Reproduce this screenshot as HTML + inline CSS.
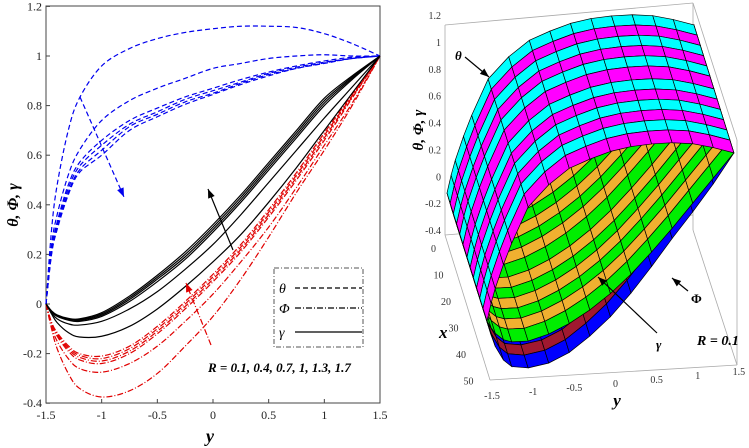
<!DOCTYPE html>
<html><head><meta charset="utf-8"><style>
body{margin:0;background:#fff;}
svg{display:block;font-family:"Liberation Serif",serif;}
</style></head><body>
<svg id="fig" width="749" height="448" viewBox="0 0 749 448" xmlns="http://www.w3.org/2000/svg">
<g id="left"></g>
<g id="right"></g>
</svg>
<script>
// ---- Data (left chart) ----
const yCats = [-1.5,-1.45,-1.4,-1.3,-1.2,-1,-0.75,-0.5,-0.25,0,0.25,0.5,0.75,1,1.25,1.5];
const thetaR01 = [0,0.3,0.48,0.7,0.83,0.96,1.03,1.07,1.095,1.11,1.12,1.12,1.115,1.09,1.05,1];
const thetaR04 = [0,0.24,0.36,0.52,0.62,0.74,0.82,0.87,0.91,0.95,0.97,0.99,1.0,1.005,1.0,1];
const thetaR07 = [0,0.22,0.33,0.48,0.57,0.66,0.74,0.79,0.835,0.87,0.905,0.935,0.96,0.98,0.995,1];
const thetaR10 = [0,0.21,0.32,0.465,0.555,0.64,0.725,0.775,0.825,0.86,0.895,0.93,0.955,0.975,0.99,1];
const thetaR13 = [0,0.205,0.31,0.45,0.54,0.62,0.715,0.765,0.815,0.85,0.89,0.925,0.95,0.972,0.99,1];
const thetaR17 = [0,0.2,0.3,0.44,0.53,0.6,0.7,0.755,0.805,0.845,0.885,0.92,0.95,0.97,0.99,1];
const gammaR01 = [0,-0.04,-0.075,-0.115,-0.133,-0.13,-0.09,-0.02,0.07,0.17,0.28,0.41,0.55,0.7,0.85,1];
const gammaR04 = [0,-0.035,-0.06,-0.08,-0.085,-0.07,-0.02,0.05,0.14,0.24,0.36,0.49,0.62,0.75,0.875,1];
const gammaR07 = [0,-0.03,-0.05,-0.065,-0.07,-0.05,0.01,0.09,0.18,0.29,0.41,0.54,0.67,0.8,0.905,1];
const gammaR10 = [0,-0.03,-0.048,-0.062,-0.066,-0.045,0.018,0.1,0.19,0.3,0.42,0.55,0.68,0.81,0.91,1];
const gammaR13 = [0,-0.029,-0.046,-0.06,-0.063,-0.04,0.025,0.108,0.2,0.31,0.43,0.56,0.69,0.82,0.915,1];
const gammaR17 = [0,-0.028,-0.044,-0.058,-0.06,-0.035,0.032,0.116,0.21,0.32,0.44,0.57,0.7,0.83,0.92,1];
const phiR01 = [0,-0.1,-0.18,-0.28,-0.34,-0.375,-0.35,-0.28,-0.17,-0.05,0.1,0.27,0.45,0.62,0.8,1];
const phiR04 = [0,-0.09,-0.15,-0.22,-0.26,-0.275,-0.24,-0.17,-0.07,0.04,0.17,0.31,0.47,0.64,0.81,1];
const phiR07 = [0,-0.08,-0.13,-0.19,-0.225,-0.24,-0.2,-0.12,-0.02,0.09,0.21,0.35,0.5,0.66,0.83,1];
const phiR10 = [0,-0.078,-0.125,-0.182,-0.215,-0.23,-0.19,-0.11,-0.01,0.1,0.22,0.36,0.51,0.67,0.835,1];
const phiR13 = [0,-0.076,-0.12,-0.175,-0.207,-0.22,-0.18,-0.1,0.0,0.11,0.23,0.37,0.52,0.68,0.84,1];
const phiR17 = [0,-0.074,-0.115,-0.168,-0.2,-0.21,-0.17,-0.09,0.01,0.12,0.24,0.38,0.53,0.69,0.845,1];
const xTicks = [-1.5,-1,-0.5,0,0.5,1,1.5];
const xTickLabels = ["-1.5","-1","-0.5","0","0.5","1","1.5"];
const yTicks = [-0.4,-0.2,0,0.2,0.4,0.6,0.8,1,1.2];
const yTickLabels = ["-0.4","-0.2","0","0.2","0.4","0.6","0.8","1","1.2"];
// ---- Data (3D chart, R = 0.1) ----
const depthCats = [0,4,8,12,16,20,25,29,33,37,41,45,50];
const theta3D = [0,0.12,0.22,0.38,0.52,0.76,0.9,1.0,1.05,1.09,1.11,1.115,1.11,1.09,1.05,1];
const gamma3D = [0,-0.05,-0.09,-0.14,-0.16,-0.165,-0.13,-0.07,0.01,0.11,0.23,0.37,0.52,0.68,0.84,1];
const phi3D = [0,-0.1,-0.18,-0.28,-0.33,-0.35,-0.33,-0.27,-0.17,-0.05,0.1,0.27,0.45,0.62,0.8,1];
const zTickLabels = ["1.2","1","0.8","0.6","0.4","0.2","0","-0.2","-0.4"];
const zTickVals = [1.2,1,0.8,0.6,0.4,0.2,0,-0.2,-0.4];
const depthTickLabels = ["0","10","20","30","40","50"];
const depthTickVals = [0,10,20,30,40,50];

const NS="http://www.w3.org/2000/svg";
function mk(tag,attrs,parent){const e=document.createElementNS(NS,tag);for(const k in attrs)e.setAttribute(k,attrs[k]);parent.appendChild(e);return e;}
const L=document.getElementById('left'), R=document.getElementById('right');
const sx=v=>46+(v+1.5)/3*334;
const sy=v=>304-v*248;
function smooth(pts){let d=`M${pts[0][0]},${pts[0][1]}`;for(let i=0;i<pts.length-1;i++){const p0=pts[Math.max(0,i-1)],p1=pts[i],p2=pts[i+1],p3=pts[Math.min(pts.length-1,i+2)];d+=` C${p1[0]+(p2[0]-p0[0])/6},${p1[1]+(p2[1]-p0[1])/6} ${p2[0]-(p3[0]-p1[0])/6},${p2[1]-(p3[1]-p1[1])/6} ${p2[0]},${p2[1]}`;}return d;}

const frame=mk('rect',{x:46,y:6,width:334,height:397,fill:'none',stroke:'#444','stroke-width':1},L);

xTicks.forEach((t,i)=>{
  const tk=mk('line',{x1:sx(t),x2:sx(t),y1:403,y2:399,stroke:'#444'},L);
  
  const tx=mk('text',{x:sx(t),y:419,'font-size':12,'text-anchor':'middle',fill:'#222'},L);tx.textContent=xTickLabels[i];
  
});
yTicks.forEach((t,i)=>{
  const tk=mk('line',{x1:46,x2:50,y1:sy(t),y2:sy(t),stroke:'#444'},L);
  
  const tx=mk('text',{x:42,y:sy(t)+4,'font-size':12,'text-anchor':'end',fill:'#222'},L);tx.textContent=yTickLabels[i];
  
});
const series=[
 [thetaR01,'#0000ee','5,3','theta'],[thetaR04,'#0000ee','5,3','theta'],[thetaR07,'#0000ee','5,3','theta'],[thetaR10,'#0000ee','5,3','theta'],[thetaR13,'#0000ee','5,3','theta'],[thetaR17,'#0000ee','5,3','theta'],
 [phiR01,'#e00000','6,2,1,2','phi'],[phiR04,'#e00000','6,2,1,2','phi'],[phiR07,'#e00000','6,2,1,2','phi'],[phiR10,'#e00000','6,2,1,2','phi'],[phiR13,'#e00000','6,2,1,2','phi'],[phiR17,'#e00000','6,2,1,2','phi'],
 [gammaR01,'#000','none','gamma'],[gammaR04,'#000','none','gamma'],[gammaR07,'#000','none','gamma'],[gammaR10,'#000','none','gamma'],[gammaR13,'#000','none','gamma'],[gammaR17,'#000','none','gamma']];
series.forEach(s=>{
  const pts=yCats.map((y,i)=>[sx(y),sy(s[0][i])]);
  const p=mk('path',{d:smooth(pts),fill:'none',stroke:s[1],'stroke-width':1.2,'stroke-dasharray':s[2]},L);
  
});
function arrow(x1,y1,x2,y2,col,dash,name,par){
  const g=mk('g',{},par);
  mk('line',{x1,y1,x2,y2,stroke:col,'stroke-width':1.2,'stroke-dasharray':dash},g);
  const a=Math.atan2(y2-y1,x2-x1),l=9,w=3.5;
  const bx=x2-l*Math.cos(a),by=y2-l*Math.sin(a);
  mk('polygon',{points:`${x2},${y2} ${bx+w*Math.sin(a)},${by-w*Math.cos(a)} ${bx-w*Math.sin(a)},${by+w*Math.cos(a)}`,fill:col},g);
}
arrow(80,97,124,197,'#0000ee','5,3','theta-trend-arrow',L);
arrow(233,250,208,189,'#000','none','gamma-trend-arrow',L);
arrow(211,345,186,283,'#e00000','6,2,1,2','phi-trend-arrow',L);
const lg=mk('g',{},L);
mk('rect',{x:274,y:268,width:89,height:79,fill:'#fff',stroke:'#555','stroke-dasharray':'5,2,1,2'},lg);
[['θ','5,3',288,'legend-entry-theta'],['Φ','6,2,1,2',308,'legend-entry-phi'],['γ','none',332,'legend-entry-gamma']].forEach(e=>{
  const g=mk('g',{},lg);
  const t=mk('text',{x:279,y:e[2]+5,'font-size':14,'font-style':'italic',fill:'#000'},g);t.textContent=e[0];
  mk('line',{x1:295,x2:362,y1:e[2],y2:e[2],stroke:'#000','stroke-width':1.2,'stroke-dasharray':e[1]},g);
});
let t=mk('text',{x:208,y:372,'font-size':13,'font-weight':'bold','font-style':'italic'},L);t.textContent='R = 0.1, 0.4, 0.7, 1, 1.3, 1.7';

t=mk('text',{x:210,y:442,'font-size':18,'font-weight':'bold','font-style':'italic','text-anchor':'middle'},L);t.textContent='y';

t=mk('text',{x:0,y:0,'font-size':16,'font-weight':'bold','font-style':'italic','text-anchor':'middle',transform:'translate(18,205) rotate(-90)'},L);t.textContent='θ, Φ, γ';


// ---- 3D panel ----
const P=(y,x,z)=>[447+(y+1.5)*82.3+x*0.8, 193-(y+1.5)*7.7-z*145+x*2.56];
const boxG=mk('g',{stroke:'#aaa','stroke-width':0.8,fill:'none'},R);

const bl=(a,b)=>mk('line',{x1:a[0],y1:a[1],x2:b[0],y2:b[1]},boxG);
bl([445,25],[693,3]);bl([693,3],[693,230]);bl([445,25],[445,235]);bl([445,235],[693,215]);bl([693,3],[737,140]);bl([693,230],[737,365]);bl([737,140],[737,365]);
bl([445,235],[490,380]);bl([490,380],[737,365]);
zTickVals.forEach((v,i)=>{
  const yy=15+(1.2-v)/1.6*215;
  const tx=mk('text',{x:441,y:yy+4,'font-size':10,'text-anchor':'end',fill:'#333'},R);tx.textContent=zTickLabels[i];
  
});
depthTickVals.forEach((v,i)=>{
  const tx=mk('text',{x:436+v*0.75,y:252+v*2.65,'font-size':10,'text-anchor':'end',fill:'#333'},R);tx.textContent=depthTickLabels[i];
  
});
xTicks.forEach((v,i)=>{
  const tx=mk('text',{x:492+(v+1.5)*82.3,y:399-(v+1.5)*8,'font-size':10,'text-anchor':'middle',fill:'#333'},R);tx.textContent=xTickLabels[i];
  
});
const surfG=mk('g',{stroke:'#000','stroke-width':0.7},R);

const surfDefs=[[phi3D,['#a01830','#0000ff'],'phi-surface-cell'],[gamma3D,['#f0b030','#00ee00'],'gamma-surface-cell'],[theta3D,['#00ffff','#ff00ff'],'theta-surface-cell']];
for(let i=0;i<depthCats.length-1;i++){
  surfDefs.forEach(sd=>{
    for(let j=0;j<yCats.length-1;j++){
      const a=P(yCats[j],depthCats[i],sd[0][j]),b=P(yCats[j+1],depthCats[i],sd[0][j+1]),c=P(yCats[j+1],depthCats[i+1],sd[0][j+1]),d=P(yCats[j],depthCats[i+1],sd[0][j]);
      const q=mk('polygon',{points:[a,b,c,d].map(p=>p.join(',')).join(' '),fill:sd[1][i%2]},surfG);
      
    }
  });
}
t=mk('text',{x:0,y:0,'font-size':15,'font-weight':'bold','font-style':'italic','text-anchor':'middle',transform:'translate(423,130) rotate(-90)'},R);t.textContent='θ, Φ, γ';

t=mk('text',{x:439,y:338,'font-size':17,'font-weight':'bold','font-style':'italic'},R);t.textContent='x';

t=mk('text',{x:617,y:406,'font-size':17,'font-weight':'bold','font-style':'italic','text-anchor':'middle'},R);t.textContent='y';

t=mk('text',{x:697,y:345,'font-size':14,'font-weight':'bold','font-style':'italic'},R);t.textContent='R = 0.1';

t=mk('text',{x:455,y:60,'font-size':13,'font-style':'italic','font-weight':'bold'},R);t.textContent='θ';

arrow(465,57,489,77,'#000','none','theta-pointer',R);
t=mk('text',{x:656,y:349,'font-size':13,'font-style':'italic','font-weight':'bold'},R);t.textContent='γ';

arrow(657,333,598,277,'#000','none','gamma-pointer',R);
t=mk('text',{x:691,y:303,'font-size':13,'font-weight':'bold'},R);t.textContent='Φ';

arrow(688,291,672,278,'#000','none','phi-pointer',R);
</script>
</body></html>
